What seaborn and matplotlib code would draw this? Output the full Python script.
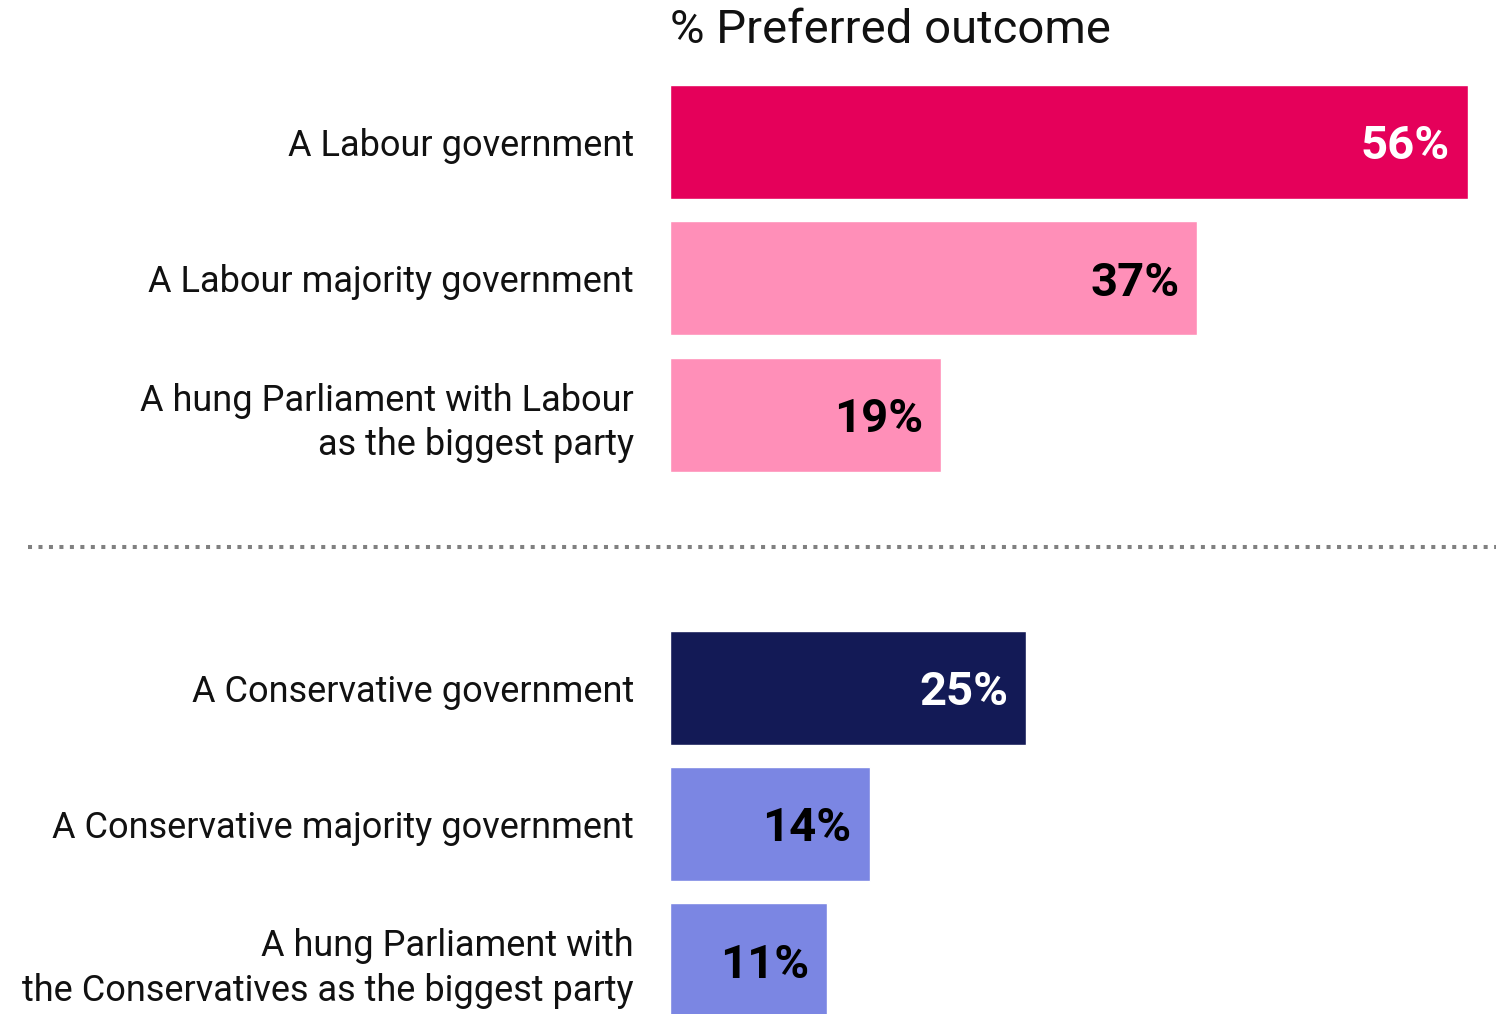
import matplotlib
matplotlib.use("Agg")
import matplotlib.pyplot as plt
import matplotlib.transforms as mtransforms
import seaborn as sns
import pandas as pd

# --- data ---
categories = [
    "A Labour government",
    "A Labour majority government",
    "A hung Parliament with Labour\nas the biggest party",
    "A Conservative government",
    "A Conservative majority government",
    "A hung Parliament with\nthe Conservatives as the biggest party",
]
values = [56, 37, 19, 25, 14, 11]
bar_colors = ["#E5005A", "#FF8FB8", "#FF8FB8", "#131A56", "#7B86E3", "#7B86E3"]
label_colors = ["white", "black", "black", "white", "black", "black"]
title = "% Preferred outcome"

# spacer slot between the two groups
order = categories[:3] + [" "] + categories[3:]

df = pd.DataFrame({"category": categories, "value": values})

sns.set_theme(style="white")
plt.rcParams["font.family"] = ["Roboto", "DejaVu Sans"]

W, H = 1506, 1014
fig = plt.figure(figsize=(W / 100, H / 100), dpi=100)
ax = fig.add_axes([670 / W, 0, (1468 - 670) / W, 1])

sns.barplot(data=df, x="value", y="category", order=order,
            hue="category", hue_order=categories,
            palette=dict(zip(categories, bar_colors)),
            dodge=False, legend=False, width=0.835,
            saturation=1, orient="h", ax=ax)

ax.set_xlim(0, 56)
ax.set_ylim(6.393, -1.041)
for s in ax.spines.values():
    s.set_visible(False)
ax.set_xticks([])
ax.set_xlabel("")
ax.set_ylabel("")
ax.tick_params(axis="y", length=0, pad=26, labelsize=26, labelcolor="#111111")
for lbl in ax.get_yticklabels():
    lbl.set_linespacing(1.3)

# value labels inside the bar ends
pos = [order.index(c) for c in categories]
for p, v, c in zip(pos, values, label_colors):
    ax.annotate(f"{v}%", xy=(v, p), xytext=(-13, -3), textcoords="offset points",
                ha="right", va="center", fontsize=34, fontweight="bold", color=c)

# title
fig.text(670 / W, 1 - 30 / H, title, ha="left", va="center", fontsize=34, color="#111111")

# dotted separator between the two groups
trans = mtransforms.blended_transform_factory(fig.transFigure, ax.transData)
ax.plot([28 / W, 1496 / W], [2.97, 2.97], transform=trans, clip_on=False,
        color="#808080", lw=2.9, linestyle=(0, (1, 1.6)), dash_capstyle="butt")

fig.savefig("out.png", dpi=100)
